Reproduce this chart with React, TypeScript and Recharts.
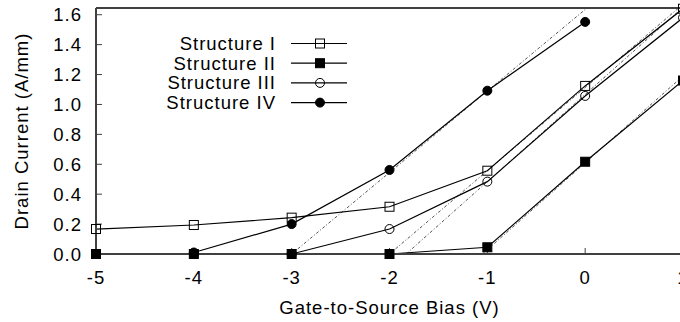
import React from 'react';
import { LineChart, Line, XAxis, YAxis, Legend, Label } from 'recharts';

// ---- data ----
const gateBias = [-5, -4, -3, -2, -1, 0, 1];
const structureI = [0.167, 0.194, 0.243, 0.316, 0.557, 1.124, 1.64];
const structureII = [0, 0, 0, 0, 0.045, 0.617, 1.16];
const structureIII = [0, 0, 0, 0.167, 0.484, 1.057, 1.58];
const structureIV = [null, 0.01, 0.2, 0.562, 1.092, 1.552, null];

const seriesNames = ['Structure I', 'Structure II', 'Structure III', 'Structure IV'];

// threshold extrapolation (tangent) lines: [x, y] pairs
const tangentI = [[-2, 0], [1, 1.67]];
const tangentII = [[-1.05, 0], [1, 1.19]];
const tangentIII = [[-1.83, 0], [1, 1.65]];
const tangentIV = [[-3, 0], [0, 1.635]];

const xTicks = [-5, -4, -3, -2, -1, 0, 1];
const yTicks = [0, 0.2, 0.4, 0.6, 0.8, 1.0, 1.2, 1.4, 1.6];

const rows = gateBias.map((x, i) => ({
  x,
  s1: structureI[i],
  s2: structureII[i],
  s3: structureIII[i],
  s4: structureIV[i],
}));

const toPts = (arr: number[][]) => arr.map(([x, y]) => ({ x, y }));

const FONT = '"Liberation Sans", Arial, Helvetica, sans-serif';
const FS = 18.5;
const LS = 1;
const FRAME = '#404040';
const Y_DOMAIN: [number, number] = [0, 1.645];

type Kind = 'openSquare' | 'filledSquare' | 'openCircle' | 'filledCircle';
const kinds: Kind[] = ['openSquare', 'filledSquare', 'openCircle', 'filledCircle'];

const Marker = ({ kind, cx, cy }: { kind: Kind; cx: number; cy: number }) => {
  const s = 4.5;
  switch (kind) {
    case 'openSquare':
      return <rect x={cx - s} y={cy - s} width={2 * s} height={2 * s} fill="none" stroke="#000" strokeWidth={1} />;
    case 'filledSquare':
      return <rect x={cx - s} y={cy - s} width={2 * s} height={2 * s} fill="#000" stroke="#000" strokeWidth={1} />;
    case 'openCircle':
      return <circle cx={cx} cy={cy} r={s} fill="none" stroke="#000" strokeWidth={1} />;
    default:
      return <circle cx={cx} cy={cy} r={s} fill="#000" stroke="#000" strokeWidth={1} />;
  }
};

const makeDot = (kind: Kind) => (props: any) => {
  const { cx, cy, index, value } = props;
  const key = `${kind}-${index}`;
  if (cx == null || cy == null || value == null || (Array.isArray(value) && value[1] == null)) {
    return <g key={key} />;
  }
  return (
    <g key={key}>
      <Marker kind={kind} cx={cx} cy={cy} />
    </g>
  );
};

const renderLegend = () => {
  const rowH = 19.7;
  const y0 = 43.5;
  return (
    <svg width={400} height={130} style={{ overflow: 'visible' }}>
      {seriesNames.map((name, i) => {
        const y = y0 + i * rowH;
        return (
          <g key={name}>
            <text
              x={276}
              y={y}
              dy="0.355em"
              textAnchor="end"
              fontFamily={FONT}
              fontSize={FS}
              letterSpacing={LS}
              fill="#000"
            >
              {name}
            </text>
            <line x1={291} x2={347} y1={y} y2={y} stroke="#000" strokeWidth={1.2} />
            <Marker kind={kinds[i]} cx={320} cy={y} />
          </g>
        );
      })}
    </svg>
  );
};

const tickStyle = { fontFamily: FONT, fontSize: FS, fill: '#000', letterSpacing: LS };

export default function App() {
  return (
    <div style={{ position: 'absolute', left: 0, top: 0, width: 680, height: 322, overflow: 'hidden', background: '#fff' }}>
      <LineChart width={700} height={322} data={rows} margin={{ top: 7, right: 16, bottom: 0, left: 0 }}>
        <XAxis
          xAxisId="bottom"
          dataKey="x"
          type="number"
          domain={[-5, 1]}
          ticks={xTicks}
          height={68}
          tickSize={-6}
          tickMargin={23}
          tick={tickStyle}
          axisLine={{ stroke: FRAME, strokeWidth: 2 }}
          tickLine={{ stroke: FRAME, strokeWidth: 1 }}
        >
          <Label
            content={(p: any) => {
              const vb = p.viewBox || { x: 96, y: 254, width: 587 };
              return (
                <text
                  x={vb.x + vb.width / 2}
                  y={vb.y + 59.5}
                  textAnchor="middle"
                  fontFamily={FONT}
                  fontSize={FS}
                  letterSpacing={LS}
                  fill="#000"
                >
                  Gate-to-Source Bias (V)
                </text>
              );
            }}
          />
        </XAxis>
        <XAxis
          xAxisId="top"
          dataKey="x"
          type="number"
          orientation="top"
          domain={[-5, 1]}
          ticks={xTicks}
          height={1}
          tickSize={-6}
          tick={false}
          axisLine={{ stroke: FRAME, strokeWidth: 2 }}
          tickLine={{ stroke: FRAME, strokeWidth: 1 }}
        />
        <YAxis
          yAxisId="left"
          type="number"
          domain={Y_DOMAIN}
          ticks={yTicks}
          width={96}
          tickSize={-6}
          tickMargin={20}
          tick={tickStyle}
          tickFormatter={(v: number) => v.toFixed(1)}
          axisLine={{ stroke: FRAME, strokeWidth: 2 }}
          tickLine={{ stroke: FRAME, strokeWidth: 1 }}
        >
          <Label
            content={(p: any) => {
              const vb = p.viewBox || { x: 0, y: 8, width: 96, height: 246 };
              const cx = vb.x + 27.5;
              const cy = vb.y + vb.height / 2;
              return (
                <text
                  x={cx}
                  y={cy}
                  transform={`rotate(-90, ${cx}, ${cy})`}
                  textAnchor="middle"
                  fontFamily={FONT}
                  fontSize={FS}
                  letterSpacing={LS}
                  fill="#000"
                >
                  Drain Current (A/mm)
                </text>
              );
            }}
          />
        </YAxis>
        <YAxis
          yAxisId="right"
          orientation="right"
          type="number"
          domain={Y_DOMAIN}
          ticks={yTicks}
          width={1}
          tickSize={-6}
          tick={false}
          axisLine={{ stroke: FRAME, strokeWidth: 2 }}
          tickLine={{ stroke: FRAME, strokeWidth: 1 }}
        />
        {/* hidden axis used only to clip the extrapolation lines at the frame */}
        <YAxis yAxisId="clip" orientation="right" type="number" domain={Y_DOMAIN} allowDataOverflow hide width={0} />

        <Legend
          layout="horizontal"
          verticalAlign="middle"
          align="center"
          content={renderLegend}
          wrapperStyle={{ position: 'absolute', left: 0, top: 0, width: 400, height: 130 }}
        />

        {[tangentIV, tangentI, tangentIII, tangentII].map((t, i) => (
          <Line
            key={`t${i}`}
            xAxisId="bottom"
            yAxisId="clip"
            data={toPts(t)}
            dataKey="y"
            type="linear"
            stroke="#555"
            strokeWidth={1}
            strokeDasharray="3 2 1 2"
            dot={false}
            activeDot={false}
            legendType="none"
            isAnimationActive={false}
          />
        ))}

        <Line xAxisId="bottom" yAxisId="left" dataKey="s1" name="Structure I" type="linear" stroke="#000" strokeWidth={1.2}
          dot={makeDot('openSquare')} activeDot={false} isAnimationActive={false} />
        <Line xAxisId="bottom" yAxisId="left" dataKey="s3" name="Structure III" type="linear" stroke="#000" strokeWidth={1.2}
          dot={makeDot('openCircle')} activeDot={false} isAnimationActive={false} />
        <Line xAxisId="bottom" yAxisId="left" dataKey="s2" name="Structure II" type="linear" stroke="#000" strokeWidth={1.2}
          dot={makeDot('filledSquare')} activeDot={false} isAnimationActive={false} />
        <Line xAxisId="bottom" yAxisId="left" dataKey="s4" name="Structure IV" type="linear" stroke="#000" strokeWidth={1.2}
          dot={makeDot('filledCircle')} activeDot={false} isAnimationActive={false} />
      </LineChart>
    </div>
  );
}
